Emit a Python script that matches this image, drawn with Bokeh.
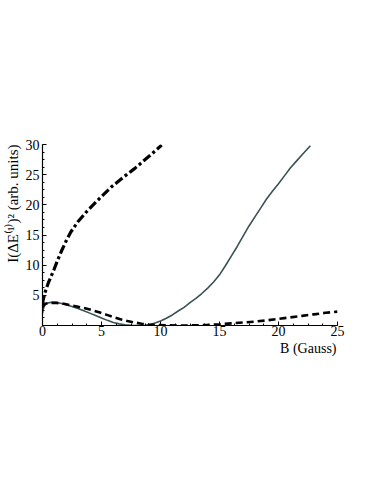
from bokeh.plotting import figure
from bokeh.models import Range1d, FixedTicker, Title
from bokeh.embed import file_html
from bokeh.resources import INLINE

# Solid curve
solid_B = [0.0, 0.05, 0.15, 0.3, 0.5, 0.8, 1.2, 1.6, 2.0, 2.5, 3.0, 3.5, 4.0, 4.5, 5.0, 5.5, 6.0, 6.5, 7.0, 7.5, 8.0, 8.6,
           9.2, 9.6, 10.0, 10.5, 11.0, 11.5, 12.0, 12.5, 13.0, 13.5, 14.0, 14.5, 15.0, 15.5, 16.0, 16.5, 17.0, 17.5,
           18.0, 18.5, 19.0, 19.5, 20.0, 20.5, 21.0, 21.5, 22.0, 22.7]
solid_I = [2.0, 2.6, 3.2, 3.55, 3.75, 3.85, 3.8, 3.65, 3.45, 3.15, 2.8, 2.45, 2.05, 1.65, 1.25, 0.85, 0.5, 0.27, 0.12, 0.05, 0.01, 0.0,
           0.2, 0.45, 0.75, 1.2, 1.75, 2.4, 3.0, 3.8, 4.5, 5.3, 6.2, 7.2, 8.4, 9.9, 11.5, 13.1, 14.8, 16.5,
           18.0, 19.5, 21.0, 22.3, 23.5, 24.8, 26.1, 27.2, 28.3, 29.8]

# Dashed curve
dash_B = [0.0, 0.1, 0.3, 0.7, 1.2, 1.8, 2.4, 3.0, 3.6, 4.2, 4.8, 5.4, 6.0, 6.6, 7.2, 7.8, 8.4, 9.0, 9.6, 10.5, 12.0,
          13.0, 14.0, 15.0, 16.0, 17.0, 18.0, 19.0, 20.0, 21.0, 22.0, 23.0, 24.0, 25.0]
dash_I = [3.0, 3.4, 3.65, 3.75, 3.75, 3.6, 3.35, 3.1, 2.85, 2.55, 2.2, 1.8, 1.4, 1.05, 0.75, 0.5, 0.3, 0.17, 0.08, 0.02, 0.0,
          0.03, 0.1, 0.2, 0.35, 0.5, 0.65, 0.85, 1.1, 1.35, 1.6, 1.85, 2.1, 2.3]

# Dash-dot curve
dd_B = [0.0, 0.05, 0.14, 0.3, 0.5, 0.7, 1.0, 1.3, 1.6, 2.0, 2.4, 3.0, 3.8, 4.8, 5.8, 6.8, 7.8, 9.0, 10.1]
dd_I = [3.5, 4.2, 4.9, 6.0, 7.1, 8.0, 9.4, 10.9, 12.3, 14.0, 15.5, 17.2, 19.0, 21.0, 22.9, 24.5, 26.0, 28.0, 29.9]

x_ticks = [0, 5, 10, 15, 20, 25]
y_ticks = [5, 10, 15, 20, 25, 30]

SERIF = "Liberation Serif"

p = figure(width=380, height=486, output_backend="svg", toolbar_location=None,
           x_range=Range1d(0, 25), y_range=Range1d(0, 30),
           min_border_left=42, min_border_right=43, min_border_top=144, min_border_bottom=161,
           frame_width=295, frame_height=181)
p.outline_line_color = None
p.grid.grid_line_color = None
p.background_fill_color = "white"

p.line(solid_B, solid_I, line_color="#3a5252", line_width=1.6)
p.line(dash_B, dash_I, line_color="black", line_width=2.6, line_dash="7 4")
p.line(dd_B, dd_I, line_color="black", line_width=3.2, line_dash="9 3 3 3")

for ax in (p.xaxis[0], p.yaxis[0]):
    ax.major_tick_in = 4
    ax.major_tick_out = 0
    ax.minor_tick_in = 2
    ax.minor_tick_out = 0
    ax.axis_line_color = "black"
    ax.axis_line_width = 1.2
    ax.major_label_text_font = SERIF
    ax.major_label_text_font_size = "14px"
    ax.major_label_text_color = "black"
    ax.major_label_standoff = 3

p.xaxis[0].ticker = FixedTicker(ticks=x_ticks, minor_ticks=[i * 1.25 for i in range(21)])
p.yaxis[0].ticker = FixedTicker(ticks=y_ticks, minor_ticks=[i * 1.25 for i in range(25)])
p.xaxis[0].major_label_standoff = 0

tb = Title(text="B (Gauss)", align="right", text_font=SERIF, text_font_size="14px",
           text_font_style="normal", text_color="black", standoff=0, offset=1)
p.add_layout(tb, "below")
tl = Title(text="I(ΔE⁽¹⁾)² (arb. units)", align="right", text_font=SERIF, text_font_size="15px",
           text_font_style="normal", text_color="black", standoff=3, offset=0)
p.add_layout(tl, "left")

open("out.html", "w").write(file_html(p, INLINE))
